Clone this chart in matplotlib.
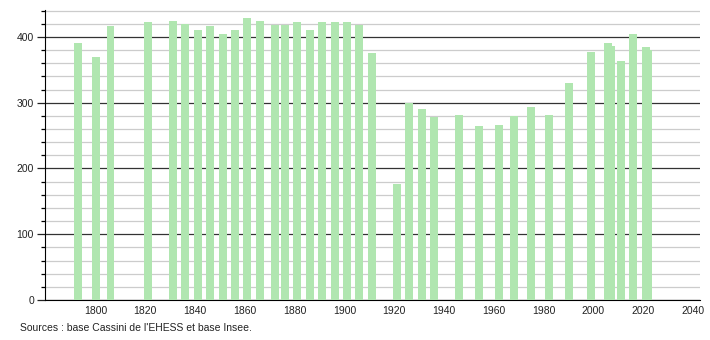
import matplotlib.pyplot as plt
from matplotlib.ticker import MultipleLocator

plt.rcParams['font.family'] = ['Liberation Sans', 'DejaVu Sans']

# census years and population
years = [1793, 1800, 1806, 1821, 1831, 1836, 1841, 1846, 1851, 1856,
         1861, 1866, 1872, 1876, 1881, 1886, 1891, 1896, 1901, 1906,
         1911, 1921, 1926, 1931, 1936, 1946, 1954, 1962, 1968, 1975,
         1982, 1990, 1999, 2006, 2007, 2011, 2016, 2021, 2022]
population = [391, 370, 416, 423, 425, 420, 411, 416, 404, 411,
              429, 425, 418, 418, 423, 410, 423, 423, 423, 418,
              376, 177, 300, 291, 278, 281, 265, 266, 280, 293,
              282, 330, 377, 391, 386, 364, 404, 384, 380]
xticks = list(range(1800, 2041, 20))

source = "Sources : base Cassini de l'EHESS et base Insee."

fig = plt.figure(figsize=(7.1, 3.4), dpi=100)
ax = fig.add_axes([0.0634, 0.1176, 0.9226, 0.853])

ax.bar(years, population, width=3.2, color='#b0e6b0', zorder=3)

ax.set_xlim(1779.7, 2042.8)
ax.set_ylim(0, 441)

ax.set_xticks(xticks)
ax.yaxis.set_major_locator(MultipleLocator(100))
ax.yaxis.set_minor_locator(MultipleLocator(20))

ax.grid(axis='y', which='major', color='#333333', linewidth=0.9, zorder=1)
ax.grid(axis='y', which='minor', color='#cccccc', linewidth=0.9, zorder=1)

for s in ['top', 'right']:
    ax.spines[s].set_visible(False)
ax.spines['left'].set_color('black')
ax.spines['bottom'].set_color('black')

ax.tick_params(axis='x', length=0, labelsize=7.5, pad=4, colors='#222222')
ax.tick_params(axis='y', which='major', length=6, width=0.9, labelsize=7.5, pad=2, colors='#222222')
ax.tick_params(axis='y', which='minor', length=3, width=0.9)

fig.text(0.028, 0.035, source, fontsize=7.5, color='#222222', va='center')

plt.savefig("out.png", dpi=100)
